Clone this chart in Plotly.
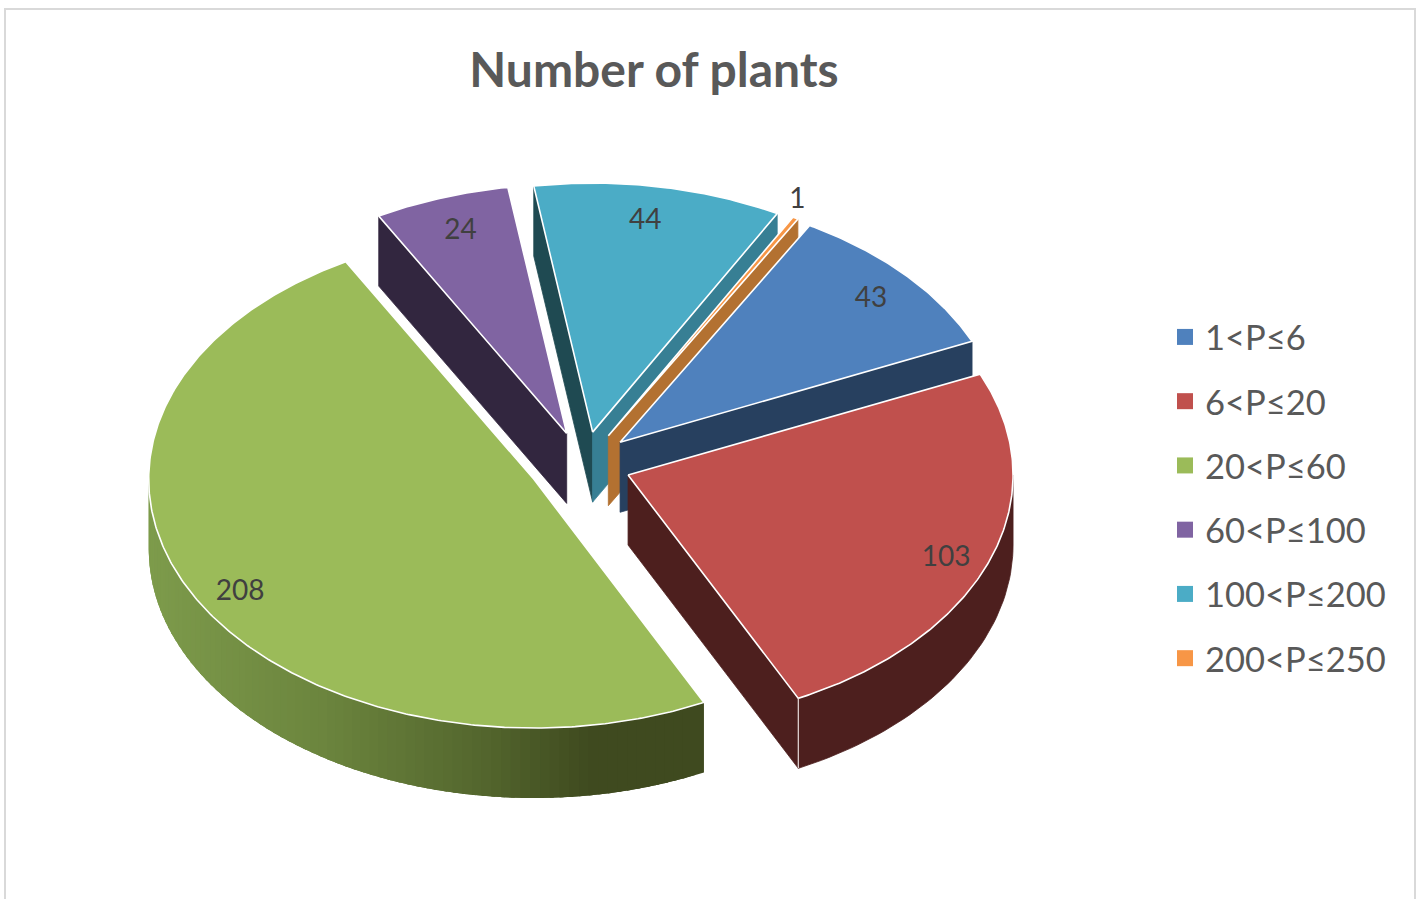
import numpy as np
import plotly.graph_objects as go

# ---- data ----
categories = ["1<P≤6", "6<P≤20", "20<P≤60", "60<P≤100", "100<P≤200", "200<P≤250"]
plants = [43, 103, 208, 24, 44, 1]
title_text = "Number of plants"

# ---- style ----
face_colors = ["#4f81bd", "#c0504d", "#9bbb59", "#8064a2", "#4bacc6", "#f79646"]
start_side = [None, None, None, "#32263f", "#1f4a52", None]
end_side = ["#27405f", "#4d1f1e", None, None, "#377f94", "#b37131"]
arc_dark = ["#27405f", "#4d1f1e", "#3f4a1f", "#32263f", "#1f4a52", "#b37131"]
label_radius = [0.88, 0.89, 0.885, 0.862, 0.867, 1.08]
label_nudge_x = [0, -4, 8, 2, -5, -13]
label_nudge_y = [5, 8, 11, 2, 3, 0]
slice_nudge_x = [2, 0, -3, 2, 3, 3]
draw_order = [3, 4, 5, 0, 2, 1]
GRAY = "#595959"
FONT = "Lato"

# view of the tilted pie, in plot units (1 unit = 1 px of the page)
CX, CY = 581.0, 464.0
RX, RY = 385.0, 249.0
DEPTH = 70.0
EXPLODE = 0.13
FIRST_ANGLE = 29.5

# green side gets a horizontal shading
shade_x = [150, 340, 500, 610, 720]
shade_rgb = np.array([[126, 156, 76], [108, 133, 62], [84, 103, 46], [63, 74, 31], [63, 74, 31]], float)


def shade(x):
    return "rgb(%d,%d,%d)" % tuple(np.interp(x, shade_x, shade_rgb[:, i]) for i in range(3))


def rim(a_deg, ox, oy):
    a = np.radians(a_deg)
    return ox + RX * np.sin(a), oy - RY * np.cos(a)


values = np.array(plants, float)
sweep = values / values.sum() * 360
starts = FIRST_ANGLE + np.concatenate([[0], np.cumsum(sweep)[:-1]])
ends = starts + sweep
mids = (starts + ends) / 2
ox = CX + EXPLODE * RX * np.sin(np.radians(mids)) + np.array(slice_nudge_x)
oy = CY - EXPLODE * RY * np.cos(np.radians(mids))

fig = go.Figure()


def poly(xs, ys, fill, line=None, width=0.8):
    fig.add_trace(go.Scatter(x=list(xs), y=list(ys), mode="lines", fill="toself", fillcolor=fill,
                             line=dict(color=line or fill, width=width), showlegend=False,
                             hoverinfo="skip"))


def side(a_deg, i, color):
    rx, ry = rim(a_deg, ox[i], oy[i])
    poly([ox[i], rx, rx, ox[i], ox[i]], [oy[i], ry, ry + DEPTH, oy[i] + DEPTH, oy[i]], color)


for i in draw_order:
    if start_side[i]:
        side(starts[i], i, start_side[i])
    if end_side[i]:
        side(ends[i], i, end_side[i])
    # outer wall: only the part of the arc facing the viewer
    lo, hi = max(starts[i], 90), min(ends[i], 270)
    if hi > lo:
        if i == 2:
            # overlapping strips, painted from the end of the arc back to its start
            edges = np.linspace(lo, hi, 81)
            for a0 in edges[-2::-1]:
                aa = np.linspace(a0, min(a0 + 3.5, hi), 6)
                xs, ys = rim(aa, ox[i], oy[i])
                poly(np.r_[xs, xs[::-1], xs[0]], np.r_[ys, ys[::-1] + DEPTH, ys[0]],
                     shade(rim(a0, ox[i], oy[i])[0]), width=0)
        else:
            aa = np.linspace(lo, hi, 50)
            xs, ys = rim(aa, ox[i], oy[i])
            poly(np.r_[xs, xs[::-1], xs[0]], np.r_[ys, ys[::-1] + DEPTH, ys[0]], arc_dark[i])
    # top face
    aa = np.linspace(starts[i], ends[i], max(int(sweep[i] * 2), 4))
    xs, ys = rim(aa, ox[i], oy[i])
    poly(np.r_[ox[i], xs, ox[i]], np.r_[oy[i], ys, oy[i]], face_colors[i], line="#ffffff", width=1.6)

# pale edge where the red side meets its outer wall
ex, ey = rim(ends[1], ox[1], oy[1])
fig.add_trace(go.Scatter(x=[ex, ex], y=[ey, ey + DEPTH], mode="lines", line=dict(color="#e8dcdc", width=1.2),
                         showlegend=False, hoverinfo="skip"))

# data labels
lx = ox + np.array(label_radius) * RX * np.sin(np.radians(mids)) + np.array(label_nudge_x)
ly = oy - np.array(label_radius) * RY * np.cos(np.radians(mids)) + np.array(label_nudge_y)
fig.add_trace(go.Scatter(x=lx, y=ly, mode="text", text=[str(v) for v in plants],
                         textposition="middle center",
                         textfont=dict(family=FONT, size=28, color="#404040"),
                         showlegend=False, hoverinfo="skip"))

# legend entries
for name, col in zip(categories, face_colors):
    fig.add_trace(go.Scatter(x=[None], y=[None], mode="markers", name=name, legendgroup=name,
                             marker=dict(symbol="square", size=16, color=col)))

fig.update_layout(
    width=1421, height=899,
    margin=dict(l=0, r=0, t=0, b=0),
    paper_bgcolor="#ffffff", plot_bgcolor="#ffffff",
    xaxis=dict(range=[0, 1421], visible=False, fixedrange=True),
    yaxis=dict(range=[899, 0], visible=False, fixedrange=True),
    title=dict(text="<b>%s</b>" % title_text, x=654 / 1421, xanchor="center", y=1 - 70 / 899, yanchor="middle",
               font=dict(family=FONT, size=48, color=GRAY)),
    legend=dict(x=1165 / 1421, xanchor="left", y=1 - 308 / 899, yanchor="top",
                font=dict(family=FONT, size=34.5, color=GRAY), itemwidth=30, tracegroupgap=16.4,
                bgcolor="rgba(0,0,0,0)", traceorder="grouped"),
    shapes=[dict(type="path", path="M 5 905 L 5 9 L 1415 9 L 1415 905", xref="x", yref="y",
                 line=dict(color="#d9d9d9", width=2))],
)

fig.write_html("out.html", config=dict(displayModeBar=False),
               post_script="document.body.style.margin='0';document.body.style.overflow='hidden';")
